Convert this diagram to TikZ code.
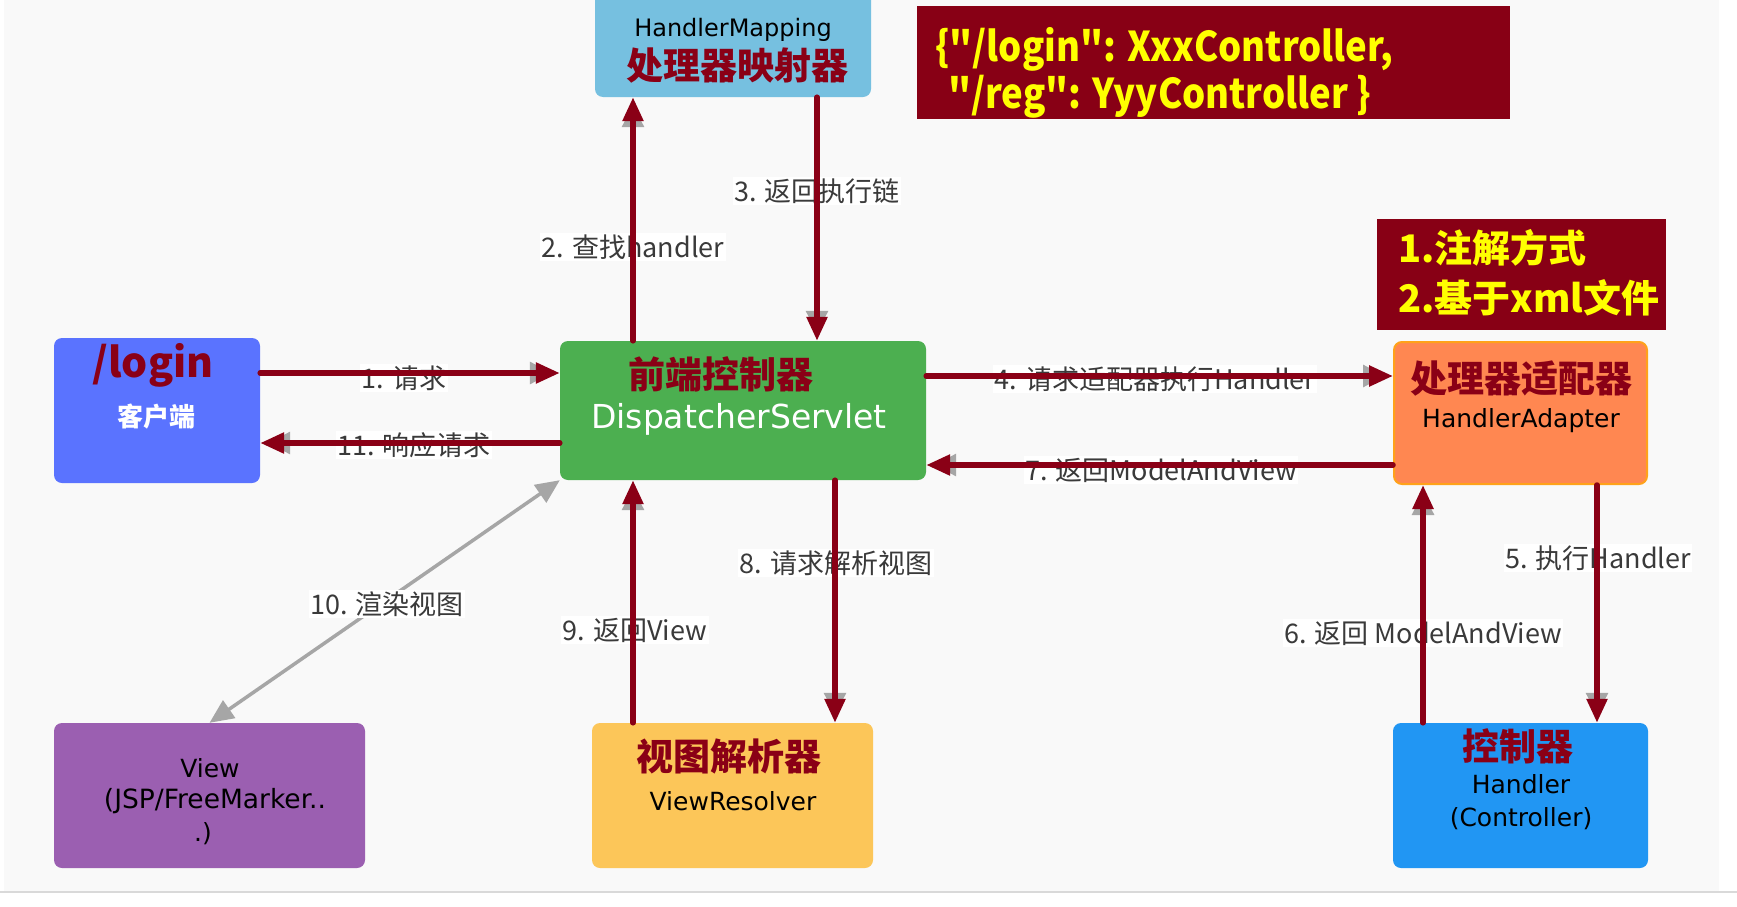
\documentclass[tikz,border=0pt]{standalone}
\usepackage{fontspec}
\newfontfamily\cjk{Noto Sans CJK SC}
\newfontfamily\anncjk{Noto Sans CJK SC}[FakeStretch=0.89]
\newfontfamily\comic{DejaVu Sans}
\usetikzlibrary{arrows.meta}
\definecolor{bggrey}{HTML}{F9F9F9}
\definecolor{linegrey}{HTML}{D9D9D9}
\definecolor{dred}{HTML}{8A0016}
\definecolor{annred}{HTML}{880015}
\definecolor{annyellow}{HTML}{FFFF00}
\definecolor{hmblue}{HTML}{76C0E0}
\definecolor{clientblue}{HTML}{5A73FF}
\definecolor{frontgreen}{HTML}{4CAF50}
\definecolor{haorange}{HTML}{FF8751}
\definecolor{haborder}{HTML}{FFA21A}
\definecolor{viewpurple}{HTML}{9B5FB1}
\definecolor{vryellow}{HTML}{FCC659}
\definecolor{ctrlblue}{HTML}{2196F3}
\definecolor{arrgrey}{HTML}{A6A6A6}
\definecolor{labelgrey}{HTML}{3A3A3A}
\tikzset{
  box/.style={rounded corners=8pt, inner sep=0pt, draw=none},
  annbox/.style={fill=annred, inner sep=0pt, draw=none},
  txt/.style={inner sep=0pt},
  title/.style={txt, text=dred, font=\cjk\bfseries\fontsize{37}{40}\selectfont},
  comictxt/.style={txt, font=\comic\fontsize{25}{28}\selectfont},
  anntxt/.style={txt, anchor=west, text=annyellow, font=\anncjk\bfseries\fontsize{41}{44}\selectfont},
  lbl/.style={fill=white, inner sep=1.5pt, text=labelgrey, font=\cjk\fontsize{27}{30}\selectfont},
  redarr/.style={draw=dred, line width=5.5pt, line cap=round, -{Triangle[length=24pt,width=20pt]}},
  greyarr/.style={draw=arrgrey, line width=3pt, -{Triangle[length=22pt,width=22pt]}, shorten >=8pt},
  renderarr/.style={draw=arrgrey, line width=3.5pt, {Triangle[length=24pt,width=21pt]}-{Triangle[length=24pt,width=21pt]}},
}
\begin{document}
\begin{tikzpicture}[x=1pt,y=-1pt]
\useasboundingbox (0,0) rectangle (1737,907);
\fill[white] (0,0) rectangle (1737,907);
\fill[bggrey] (4,0) rectangle (1719,891);
\draw[line width=2pt, draw=linegrey] (0,892) -- (1737,892);

% boxes
\node[box, fill=hmblue, minimum width=276pt, minimum height=110pt] (hm) at (733,42) {};
\node[box, fill=clientblue, minimum width=206pt, minimum height=145pt] (client) at (157,410.5) {};
\node[box, fill=frontgreen, minimum width=366pt, minimum height=139pt] (front) at (743,410.5) {};
\node[box, fill=haorange, draw=haborder, line width=2pt, minimum width=253pt, minimum height=142pt] (ha) at (1520.5,413) {};
\node[box, fill=viewpurple, minimum width=311pt, minimum height=145pt] (view) at (209.5,795.5) {};
\node[box, fill=vryellow, minimum width=281pt, minimum height=145pt] (vr) at (732.5,795.5) {};
\node[box, fill=ctrlblue, minimum width=255pt, minimum height=145pt] (ctrl) at (1520.5,795.5) {};

% annotation boxes
\node[annbox, minimum width=593pt, minimum height=113pt] (ann1) at (1213.5,62.5) {};
\node[annbox, minimum width=289pt, minimum height=111pt] (ann2) at (1521.5,274.5) {};
\node[anntxt] (ann1a) at (935,49) {\{"/login": XxxController,};
\node[anntxt] (ann1b) at (948,97) {"/reg": YyyController \}};
\node[anntxt, font=\cjk\bfseries\fontsize{38}{42}\selectfont] (ann2a) at (1398,248) {1.注解方式};
\node[anntxt, font=\cjk\bfseries\fontsize{38}{42}\selectfont] (ann2b) at (1398,298) {2.基于xml文件};

% box texts
\node[comictxt, font=\comic\fontsize{24}{27}\selectfont] (hmt1) at (733,30) {HandlerMapping};
\node[title] (hmt2) at (737,66) {处理器映射器};
\node[txt, text=dred, font=\cjk\bfseries\fontsize{41}{44}\selectfont] (clt1) at (153,365) {/login};
\node[txt, text=white, font=\cjk\bfseries\fontsize{26}{29}\selectfont] (clt2) at (156,417) {客户端};
\node[title] (frt1) at (721,374) {前端控制器};
\node[comictxt, text=white, font=\comic\fontsize{33}{36}\selectfont] (frt2) at (739,419) {DispatcherServlet};
\node[title] (hat1) at (1521,379) {处理器适配器};
\node[comictxt] (hat2) at (1521,421) {HandlerAdapter};
\node[title] (ctt1) at (1518,746) {控制器};
\node[comictxt] (ctt2) at (1521,784) {Handler};
\node[comictxt] (ctt3) at (1521,819) {(Controller)};
\node[title] (vrt1) at (729,756) {视图解析器};
\node[comictxt] (vrt2) at (733,801) {ViewResolver};
\node[comictxt] (vwt1) at (210,768) {View};
\node[comictxt, font=\comic\fontsize{26.5}{29}\selectfont] (vwt2) at (215,801) {(JSP/FreeMarker..};
\node[comictxt] (vwt3) at (203,834) {.)};

% line positions
\coordinate (y373) at (0,373);
\coordinate (y443) at (0,443);
\coordinate (y376) at (0,376);
\coordinate (y465) at (0,465);
\coordinate (x633) at (633,0);
\coordinate (x817) at (817,0);
\coordinate (x835) at (835,0);
\coordinate (x1423) at (1423,0);
\coordinate (x1597) at (1597,0);

% original grey arrows (heads visible behind red ones)
\draw[greyarr] (client.east |- y373) -- (front.west |- y373);
\draw[greyarr] (front.west |- y443) -- (client.east |- y443);
\draw[greyarr] (x633 |- front.north) -- (x633 |- hm.south);
\draw[greyarr] (x817 |- hm.south) -- (x817 |- front.north);
\draw[greyarr] (front.east |- y376) -- (ha.west |- y376);
\draw[greyarr] (ha.west |- y465) -- (front.east |- y465);
\draw[greyarr] (x1597 |- ha.south) -- (x1597 |- ctrl.north);
\draw[greyarr] (x1423 |- ctrl.north) -- (x1423 |- ha.south);
\draw[greyarr] (x835 |- front.south) -- (x835 |- vr.north);
\draw[greyarr] (x633 |- vr.north) -- (x633 |- front.south);
\draw[renderarr] (front.south west) -- (view.north);

% labels
\node[lbl] (l1) at (404,378) {1. 请求};
\node[lbl] (l11) at (414,445) {11. 响应请求};
\node[lbl] (l2) at (633,247) {2. 查找handler};
\node[lbl] (l3) at (817,191) {3. 返回执行链};
\node[lbl] (l4) at (1155,379) {4. 请求适配器执行Handler};
\node[lbl] (l7) at (1161,470) {7. 返回ModelAndView};
\node[lbl] (l5) at (1598,558) {5. 执行Handler};
\node[lbl] (l6) at (1423,633) {6. 返回 ModelAndView};
\node[lbl] (l8) at (836,563) {8. 请求解析视图};
\node[lbl] (l9) at (635,630) {9. 返回View};
\node[lbl] (l10) at (387,604) {10. 渲染视图};

% red arrows on top
\draw[redarr] (client.east |- y373) -- (front.west |- y373);
\draw[redarr] (front.west |- y443) -- (client.east |- y443);
\draw[redarr] (x633 |- front.north) -- (x633 |- hm.south);
\draw[redarr] (x817 |- hm.south) -- (x817 |- front.north);
\draw[redarr] (front.east |- y376) -- (ha.west |- y376);
\draw[redarr] (ha.west |- y465) -- (front.east |- y465);
\draw[redarr] (x1597 |- ha.south) -- (x1597 |- ctrl.north);
\draw[redarr] (x1423 |- ctrl.north) -- (x1423 |- ha.south);
\draw[redarr] (x835 |- front.south) -- (x835 |- vr.north);
\draw[redarr] (x633 |- vr.north) -- (x633 |- front.south);
\end{tikzpicture}
\end{document}
